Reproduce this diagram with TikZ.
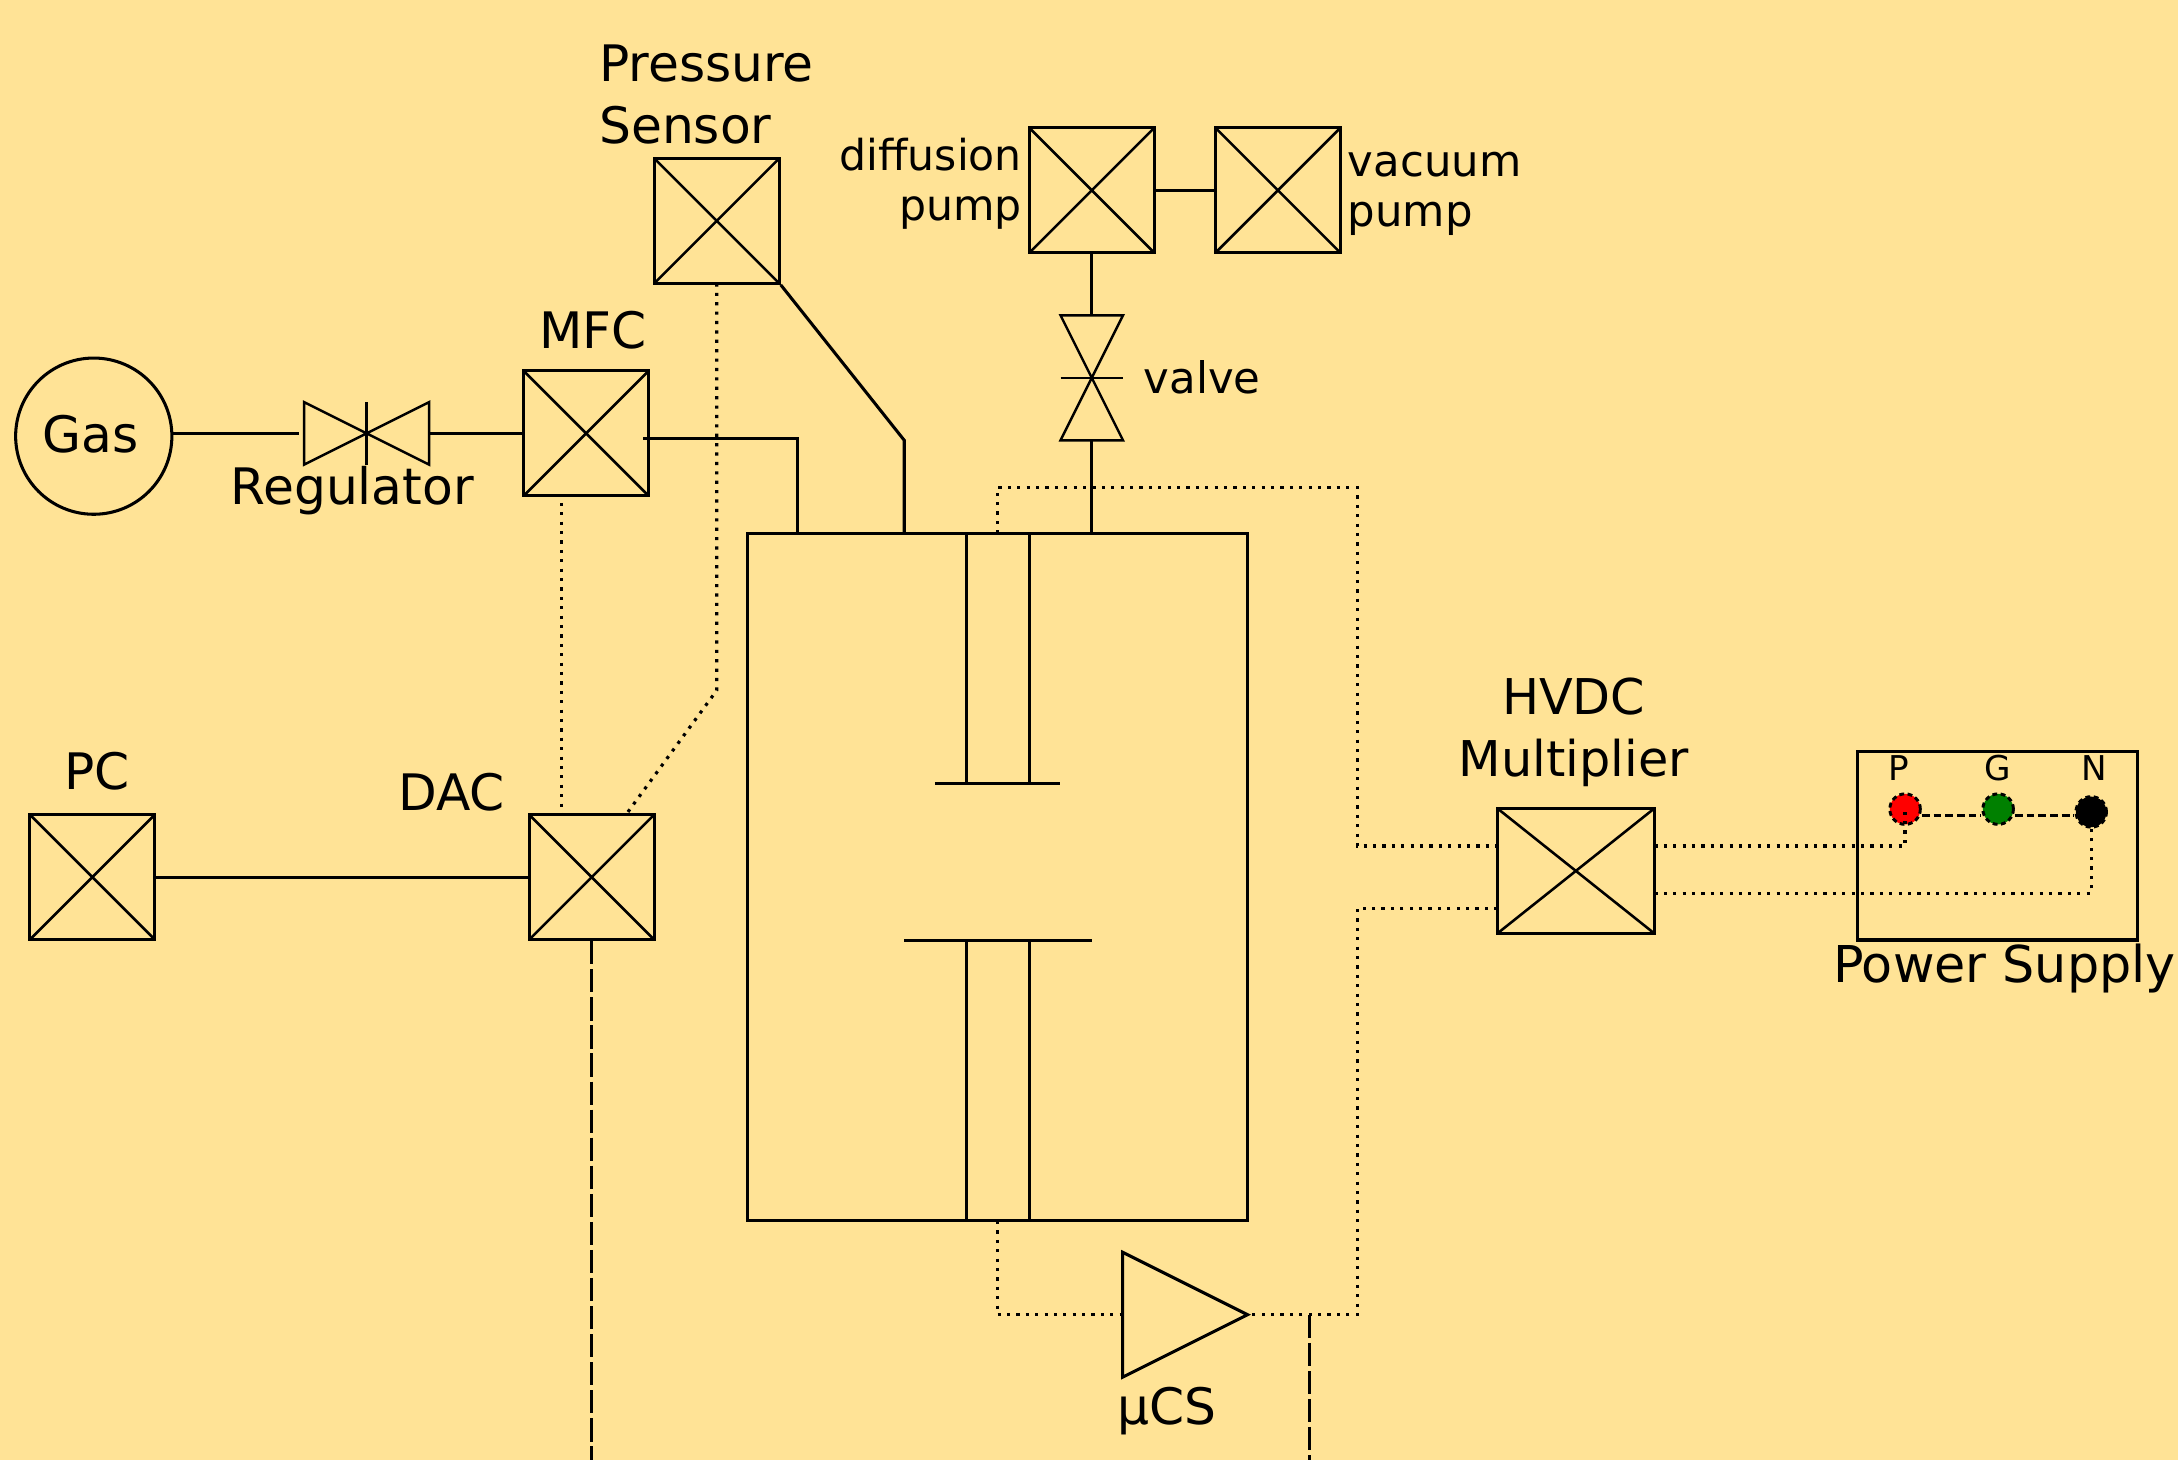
\documentclass[tikz,border=0pt]{standalone}
\usepackage{fontspec}
\setmainfont{DejaVu Sans}
\usetikzlibrary{shapes.geometric}
\definecolor{panelbg}{RGB}{255,227,150}
\tikzset{
  xbox/.style={draw,line width=1.25pt,minimum width=1.8cm,minimum height=1.8cm,inner sep=0pt,
    path picture={\draw[line width=1.05pt] (path picture bounding box.south west) -- (path picture bounding box.north east)
      (path picture bounding box.north west) -- (path picture bounding box.south east);}},
  bigtext/.style={inner sep=0pt,align=center,font=\fontsize{20.6}{25.5}\selectfont},
  smalltext/.style={inner sep=0pt,font=\fontsize{17.8}{20.6}\selectfont},
  tinytext/.style={inner sep=0pt,font=\fontsize{14}{16}\selectfont},
  solidwire/.style={line width=1.25pt},
  dotwire/.style={line width=1.3pt,dash pattern=on 1.3pt off 2.55pt},
  dashwire/.style={line width=1.3pt,dash pattern=on 9.5pt off 2pt},
  linkwire/.style={line width=1.2pt,dash pattern=on 3.2pt off 1.6pt},
  term/.style={circle,draw,line width=1.2pt,dash pattern=on 2pt off 1.4pt,minimum size=0.44cm,inner sep=0pt},
  bowtie/.pic={
    \draw[line width=1pt] (-45,-22.5) -- (45,22.5) -- (45,-22.5) -- (-45,22.5) -- cycle;
    \draw[line width=1pt] (0,-22.5) -- (0,22.5);
    \coordinate (-l) at (-45,0);
    \coordinate (-r) at (45,0);
  }
}
\begin{document}
\begin{tikzpicture}[x=0.02cm,y=-0.02cm]
  \fill[panelbg] (0,0) rectangle (1568,1051);
  \useasboundingbox (0,0) rectangle (1568,1051);

  % gas line
  \node[circle,draw,line width=1.25pt,minimum size=2.25cm,inner sep=0pt] (gas) at (67.5,314) {};
  \pic (reg) at (264,312) {bowtie};
  \coordinate (reggap) at (215,312);
  \node[xbox] (mfc) at (422,312) {};
  \node[xbox] (sensor) at (516,159) {};
  \node[xbox] (diff) at (786,137) {};
  \node[xbox] (vac) at (920,137) {};
  \pic[rotate=90] (vlv) at (786,272) {bowtie};
  \node[xbox] (pc) at (66.5,631.5) {};
  \node[xbox] (dac) at (426,631.5) {};
  \node[xbox,minimum width=2.26cm] (hvdc) at (1134.5,627) {};

  % chamber and electrodes
  \node[draw,line width=1.25pt,minimum width=7.2cm,minimum height=9.9cm,inner sep=0pt] (chamber) at (718,631.5) {};
  \draw[solidwire] (696,384) -- (696,564) (741,384) -- (741,564);
  \draw[solidwire] (673,564) -- (763,564);
  \draw[solidwire] (651,677) -- (786,677);
  \draw[solidwire] (696,677) -- (696,879) (741,677) -- (741,879);

  % amplifier
  \node[draw,line width=1.25pt,isosceles triangle,isosceles triangle apex angle=53.13,isosceles triangle stretches,
    minimum width=1.8cm,minimum height=1.8cm,inner sep=0pt] (amp) at (836,946.5) {};

  % power supply
  \node[draw,line width=1.25pt,minimum width=4.04cm,minimum height=2.71cm,inner sep=0pt] (psu) at (1438,609) {};
  \node[term,fill=red] (pp) at (1371.5,582.5) {};
  \node[term,fill=green!50!black] (pg) at (1438.5,582.5) {};
  \node[term,fill=black] (pn) at (1505.5,584.5) {};

  % free ends
  \coordinate (mfcout) at (463,316);
  \coordinate (gasin) at (574,384);
  \coordinate (sensin) at (651,384);
  \coordinate (sensbend) at (651,317);
  \coordinate (vacin) at (786,384);
  \coordinate (mfcsig) at (404,362);
  \coordinate (dacm) at (404,586);
  \coordinate (sensig) at (516,204);
  \coordinate (sensbot) at (516,497);
  \coordinate (dacs) at (451,586);
  \coordinate (chtop) at (718,384);
  \coordinate (chtopb) at (718,351);
  \coordinate (hvhi) at (1078,609);
  \coordinate (hvlo) at (1078,654);
  \coordinate (hvhr) at (1191,609);
  \coordinate (hvlr) at (1191,643);
  \coordinate (chbot) at (718,879);
  \coordinate (ampin) at (808,946.5);
  \coordinate (ampjoin) at (943,946.5);
  \coordinate (ampout) at (943,1051);
  \coordinate (dacout) at (426,1051);
  \coordinate (wire1) at (977,351);
  \coordinate (wire2) at (977,654);
  \coordinate (wire3) at (977,946.5);

  % gas and vacuum
  \draw[solidwire] (gas.east |- reggap) -- (reggap);
  \draw[solidwire] (reg-r) -- (mfc.west);
  \draw[solidwire] (mfcout) -| (gasin);
  \draw[solidwire] (sensor.south east) -- (sensbend) -- (sensin);
  \draw[solidwire] (diff.east) -- (vac.west);
  \draw[solidwire] (diff.south) -- (vlv-r);
  \draw[solidwire] (vlv-l) -- (vacin);
  \draw[solidwire] (pc.east) -- (dac.west);

  % signals
  \draw[dotwire] (mfcsig) -- (dacm);
  \draw[dotwire] (sensig) -- (sensbot) -- (dacs);
  \draw[dotwire] (chtop) -- (chtopb) -- (wire1) |- (hvhi);
  \draw[dotwire] (hvlo) -- (wire2) -- (wire3) -- (amp.apex);
  \draw[dotwire] (chbot) |- (ampin);
  \draw[dotwire] (hvhr) -| (pp.center);
  \draw[dotwire] (hvlr) -| (pn.south);
  \draw[linkwire] (pp.east |- 0,587) -- (pg.west |- 0,587);
  \draw[linkwire] (pg.east |- 0,587) -- (pn.west |- 0,587);
  \draw[dashwire] (dac.south) -- (dacout);
  \draw[dashwire] (ampjoin) -- (ampout);

  % labels
  \node[bigtext] (gaslab) at (65,312.5) {Gas};
  \node[bigtext,align=left,anchor=west] (senslab) at (431,68) {Pressure\\Sensor};
  \node[bigtext] (mfclab) at (427,237.5) {MFC};
  \node[bigtext] (reglab) at (253.5,353) {Regulator};
  \node[bigtext] (pclab) at (70,555) {PC};
  \node[bigtext] (daclab) at (325,570) {DAC};
  \node[smalltext,align=right,anchor=east,font=\fontsize{17.45}{20.6}\selectfont] (difflab) at (736,132.5) {diffusion\\pump};
  \node[smalltext,align=left,anchor=west] (vaclab) at (970,139.5) {vacuum\\pump};
  \node[smalltext,anchor=west] (vlvlab) at (823,271.5) {valve};
  \node[bigtext,font=\fontsize{20.2}{25.5}\selectfont] (hvdclab) at (1133,527) {HVDC\\Multiplier};
  \node[bigtext] (amplab) at (840,1016) {µCS};
  \node[bigtext,font=\fontsize{20.8}{25.5}\selectfont] (psulab) at (1443,697) {Power Supply};
  \node[tinytext] (plab) at (1367,553) {P};
  \node[tinytext] (glab) at (1438,553) {G};
  \node[tinytext] (nlab) at (1508,553) {N};
\end{tikzpicture}
\end{document}
